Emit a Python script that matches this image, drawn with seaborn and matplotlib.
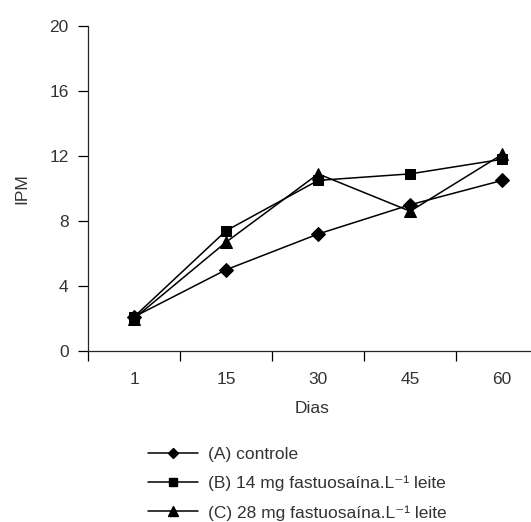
import numpy as np
import pandas as pd
import matplotlib
matplotlib.use("Agg")
import matplotlib.pyplot as plt
import seaborn as sns
from matplotlib.lines import Line2D

# data
dias = ["1", "15", "30", "45", "60"]
controle = [2.1, 5.0, 7.2, 9.0, 10.5]
fastu_14 = [2.1, 7.4, 10.5, 10.9, 11.8]
fastu_28 = [2.0, 6.7, 10.9, 8.6, 12.1]
series_names = ["(A) controle",
                "(B) 14 mg fastuosaína.L⁻¹ leite",
                "(C) 28 mg fastuosaína.L⁻¹ leite"]
y_ticks = [0, 4, 8, 12, 16, 20]

sns.set_style("ticks")
plt.rcParams['font.family'] = ['Liberation Sans', 'DejaVu Sans']

df = pd.DataFrame({
    "Dias": dias * 3,
    "IPM": controle + fastu_14 + fastu_28,
    "serie": np.repeat(series_names, len(dias)),
})

markers = {series_names[0]: "D", series_names[1]: "s", series_names[2]: "^"}
sizes = {"D": 7, "s": 7.5, "^": 9}
fs = 12.5
tc = "#333333"

fig = plt.figure(figsize=(5.31, 5.22), dpi=100)
ax = fig.add_axes([88 / 531, 1 - 351 / 522, 1 - 88 / 531 + 0.01, (351 - 26) / 522])

for name in series_names:
    sub = df[df["serie"] == name]
    m = markers[name]
    sns.lineplot(data=sub, x="Dias", y="IPM", ax=ax, color="black", lw=1.1,
                 marker=m, markersize=sizes[m], markeredgecolor="black",
                 sort=False, legend=False)

ax.set_ylim(0, 20)
ax.set_yticks(y_ticks)
ax.set_xlim(-0.5, 4.37)
ax.set_xticks([-0.5, 0.5, 1.5, 2.5, 3.5], minor=False)
ax.set_xticklabels([])
ax.set_xticks(range(len(dias)), minor=True)
ax.set_xticklabels(dias, minor=True)
ax.tick_params(axis="x", which="minor", length=0, pad=15, labelsize=fs)
ax.tick_params(axis="x", which="major", length=7, width=0.9, color="black")
ax.tick_params(axis="y", length=7, width=0.9, labelsize=fs, pad=7, color="black")
for lab in ax.get_yticklabels() + ax.get_xticklabels(minor=True):
    lab.set_color(tc)
sns.despine(ax=ax)
ax.spines["left"].set_linewidth(0.9)
ax.spines["bottom"].set_linewidth(0.9)
ax.set_xlabel("Dias", fontsize=fs, labelpad=10, color=tc)
ax.set_ylabel("IPM", fontsize=fs, labelpad=14, color=tc)

handles = [Line2D([0], [0], color="black", lw=1.1, marker=markers[n],
                  markersize=sizes[markers[n]] * 0.75) for n in series_names]
fig.legend(handles, series_names, loc="upper left",
           bbox_to_anchor=(132 / 531, 1 - 431 / 522), frameon=False,
           fontsize=fs, handlelength=2.9, handletextpad=0.6,
           labelspacing=0.8, numpoints=1, labelcolor=tc)

fig.savefig("out.png", dpi=100)
